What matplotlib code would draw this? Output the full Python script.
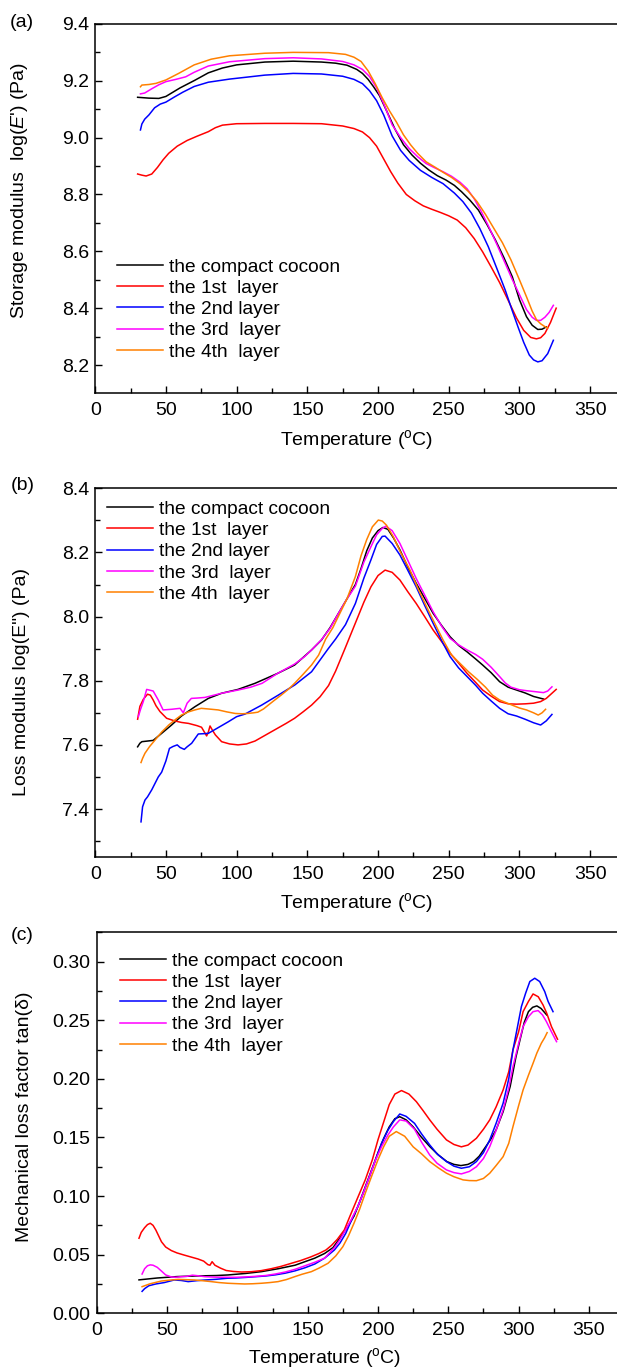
import matplotlib
matplotlib.use("Agg")
import matplotlib.pyplot as plt
from matplotlib.ticker import MultipleLocator

plt.rcParams['font.family'] = ['Liberation Sans', 'DejaVu Sans']
plt.rcParams['mathtext.fontset'] = 'custom'
plt.rcParams['mathtext.rm'] = 'Liberation Sans'
plt.rcParams['mathtext.it'] = 'Liberation Sans:italic'

labels = ["the compact cocoon", "the 1st  layer", "the 2nd layer", "the 3rd  layer", "the 4th  layer"]
colors = ["#000000", "#ff0000", "#0000ff", "#ff00ff", "#ff8000"]

# ---------------- Panel (a): storage modulus log(E') ----------------
a_compact_T = [30, 38, 45, 50, 55, 60, 70.5, 80, 90, 100, 120, 140, 160, 170, 178, 185, 189, 193, 197, 201, 206, 212, 218, 224, 230, 236, 242, 248, 254, 259, 265, 271, 277, 283, 289, 295, 300, 305, 309, 313, 316, 319]
a_compact_v = [9.142, 9.139, 9.138, 9.145, 9.16, 9.175, 9.202, 9.228, 9.245, 9.256, 9.266, 9.269, 9.266, 9.262, 9.255, 9.24, 9.226, 9.205, 9.178, 9.148, 9.095, 9.03, 8.975, 8.939, 8.91, 8.886, 8.866, 8.851, 8.832, 8.81, 8.78, 8.745, 8.695, 8.64, 8.578, 8.51, 8.43, 8.37, 8.34, 8.325, 8.326, 8.334]

a_l1_T = [30, 33, 36, 40, 44, 48, 52, 58, 65, 72, 80, 85, 90, 100, 120, 140, 160, 175, 183, 189, 194, 199, 204, 209, 214, 220, 226, 232, 238, 244, 250, 256, 262, 268, 274, 280, 286, 292, 298, 303, 308, 312, 315, 318, 322, 326]
a_l1_v = [8.872, 8.868, 8.865, 8.872, 8.895, 8.922, 8.945, 8.97, 8.99, 9.005, 9.021, 9.035, 9.044, 9.049, 9.05, 9.05, 9.049, 9.041, 9.032, 9.02, 9.0, 8.97, 8.925, 8.88, 8.84, 8.80, 8.778, 8.76, 8.748, 8.737, 8.725, 8.71, 8.683, 8.645, 8.598, 8.545, 8.49, 8.428, 8.365, 8.322, 8.297, 8.292, 8.296, 8.311, 8.35, 8.40]

a_l2_T = [32, 33, 35, 38, 42, 46, 50, 56, 62, 70, 80, 95, 120, 140, 160, 175, 183, 189, 194, 199, 204, 210, 216, 222, 230, 238, 246, 254, 260, 266, 272, 278, 284, 290, 295, 299, 303, 307, 310, 313, 316, 320, 324]
a_l2_v = [9.027, 9.048, 9.065, 9.08, 9.105, 9.118, 9.125, 9.143, 9.16, 9.18, 9.195, 9.206, 9.22, 9.226, 9.224, 9.216, 9.205, 9.19, 9.165, 9.13, 9.08, 9.006, 8.955, 8.92, 8.885, 8.86, 8.838, 8.805, 8.775, 8.735, 8.68, 8.616, 8.54, 8.463, 8.39, 8.334, 8.28, 8.235, 8.218, 8.211, 8.215, 8.24, 8.287]

a_l3_T = [32, 35, 40, 45, 50, 57, 64, 70, 80, 95, 120, 140, 160, 175, 183, 189, 194, 199, 204, 210, 216, 222, 228, 234, 240, 246, 252, 258, 263, 268, 273, 278, 284, 290, 295, 300, 305, 309, 312, 315, 318, 321, 324]
a_l3_v = [9.154, 9.157, 9.172, 9.186, 9.197, 9.205, 9.214, 9.23, 9.252, 9.267, 9.278, 9.281, 9.277, 9.268, 9.256, 9.24, 9.215, 9.175, 9.12, 9.045, 9.0, 8.962, 8.933, 8.909, 8.894, 8.88, 8.864, 8.843, 8.82, 8.785, 8.74, 8.69, 8.625, 8.557, 8.5, 8.448, 8.395, 8.368, 8.357, 8.357, 8.368, 8.385, 8.41]

a_l4_T = [32, 33, 38, 43, 50, 59, 70, 82, 95, 120, 140, 165, 177, 183, 188, 193, 198, 203, 208, 213, 218, 223, 228, 234, 240, 246, 252, 258, 264, 270, 276, 282, 288, 294, 300, 305, 309, 312, 315, 318, 320]
a_l4_v = [9.179, 9.185, 9.187, 9.191, 9.203, 9.226, 9.256, 9.276, 9.288, 9.297, 9.3, 9.299, 9.293, 9.283, 9.268, 9.235, 9.19, 9.14, 9.095, 9.055, 9.01, 8.975, 8.945, 8.915, 8.897, 8.878, 8.86, 8.838, 8.81, 8.775, 8.73, 8.68, 8.63, 8.57, 8.5, 8.44, 8.39, 8.36, 8.345, 8.335, 8.33]

# ---------------- Panel (b): loss modulus log(E") ----------------
b_compact_T = [30, 31.6, 33, 41, 47, 54, 61, 70.5, 80, 89.4, 101, 113, 129, 141, 153, 160, 166, 172, 178, 184, 188, 192, 196, 200, 203.5, 207, 211, 215.5, 221, 227, 233, 239, 245, 251, 257, 263, 269, 274, 280, 286, 292, 298, 304, 310, 317]
b_compact_v = [7.594, 7.605, 7.61, 7.614, 7.636, 7.662, 7.69, 7.719, 7.745, 7.761, 7.773, 7.792, 7.823, 7.849, 7.896, 7.927, 7.965, 8.01, 8.055, 8.1, 8.15, 8.205, 8.245, 8.268, 8.278, 8.272, 8.245, 8.208, 8.155, 8.104, 8.057, 8.01, 7.972, 7.937, 7.91, 7.89, 7.868, 7.849, 7.825, 7.797, 7.78, 7.771, 7.762, 7.751, 7.743]

b_l1_T = [30, 31.6, 34, 37, 39, 41, 43, 45.8, 50.5, 56, 61, 66, 72, 75.2, 78.8, 80, 81.2, 83, 85, 89.4, 95, 101, 107, 113, 121, 129, 135, 141, 147, 153, 159, 165, 170, 176.6, 184, 190, 195, 200, 205, 210, 215.5, 221, 227, 233, 239, 245, 251, 257, 263, 269, 274, 280, 286, 292, 298, 304, 310, 315, 319, 322, 326]
b_l1_v = [7.68, 7.72, 7.742, 7.758, 7.755, 7.74, 7.722, 7.704, 7.683, 7.675, 7.67, 7.667, 7.66, 7.655, 7.628, 7.64, 7.659, 7.645, 7.631, 7.61, 7.603, 7.6, 7.603, 7.612, 7.632, 7.652, 7.667, 7.683, 7.703, 7.724, 7.75, 7.785, 7.83, 7.9, 7.98, 8.045, 8.093, 8.128, 8.145, 8.138, 8.114, 8.078, 8.041, 8.0, 7.958, 7.922, 7.886, 7.855, 7.823, 7.795, 7.771, 7.752, 7.735, 7.728, 7.727, 7.728, 7.73, 7.735, 7.745, 7.757, 7.773]

b_l2_T = [32.4, 33.5, 35.2, 37, 40, 44.6, 47, 50, 52.5, 55, 58, 60, 63, 65, 68.2, 72.9, 77, 80, 84.7, 94.1, 100, 105.9, 117.7, 129.4, 141.2, 153, 164.8, 170, 177, 184, 190, 195, 199, 203, 205, 210, 215.5, 221, 227, 233, 239, 245, 251, 257, 263, 269, 274, 280, 286, 292, 298, 304, 310, 315, 319, 323]
b_l2_v = [7.36, 7.407, 7.428, 7.438, 7.46, 7.50, 7.515, 7.55, 7.589, 7.595, 7.6, 7.592, 7.586, 7.594, 7.605, 7.634, 7.635, 7.636, 7.648, 7.672, 7.688, 7.696, 7.724, 7.755, 7.787, 7.828, 7.9, 7.93, 7.975, 8.041, 8.12, 8.177, 8.225, 8.25, 8.251, 8.228, 8.192, 8.145, 8.093, 8.035, 7.979, 7.925, 7.875, 7.84, 7.813, 7.786, 7.761, 7.737, 7.714, 7.697, 7.69, 7.68, 7.669, 7.662, 7.675, 7.695]

b_l3_T = [30.5, 32, 34, 36.4, 41, 44.6, 48, 54, 60, 62.3, 65, 68, 72, 77.6, 89.4, 101, 110, 118, 129, 141, 148, 153, 160, 166, 172, 178, 184, 190, 195, 199, 203, 205.5, 210, 215.5, 221, 227, 233, 239, 245, 251, 257, 263, 269, 274, 280, 286, 290, 294, 300, 305, 311, 317, 320, 323]
b_l3_v = [7.688, 7.71, 7.735, 7.773, 7.768, 7.74, 7.709, 7.711, 7.714, 7.70, 7.73, 7.745, 7.746, 7.748, 7.761, 7.771, 7.78, 7.792, 7.823, 7.852, 7.875, 7.896, 7.928, 7.963, 8.01, 8.055, 8.095, 8.17, 8.218, 8.255, 8.275, 8.282, 8.268, 8.228, 8.176, 8.119, 8.067, 8.015, 7.97, 7.932, 7.912, 7.896, 7.882, 7.867, 7.842, 7.813, 7.793, 7.78, 7.772, 7.769, 7.766, 7.763, 7.768, 7.781]

b_l4_T = [32.4, 33.5, 35.2, 38.5, 42.3, 47, 52, 57, 61, 66, 70.5, 75, 80, 87, 93, 99, 104, 108, 112, 115, 119, 122.4, 127, 132, 137, 141, 147, 153, 158, 163, 168, 173, 178, 184, 188, 192, 196, 200.2, 203, 206, 210.8, 216, 222.6, 228, 234.3, 240, 246, 252, 258, 264, 270, 276, 281, 286, 291, 296, 300, 305, 310, 313.3, 316, 318.5]
b_l4_v = [7.545, 7.558, 7.574, 7.595, 7.615, 7.64, 7.662, 7.68, 7.693, 7.703, 7.709, 7.714, 7.712, 7.709, 7.703, 7.698, 7.697, 7.698, 7.7, 7.702, 7.712, 7.724, 7.74, 7.757, 7.775, 7.792, 7.82, 7.849, 7.88, 7.93, 7.965, 8.01, 8.055, 8.125, 8.19, 8.24, 8.28, 8.301, 8.298, 8.285, 8.249, 8.2, 8.145, 8.09, 8.031, 7.98, 7.927, 7.88, 7.854, 7.828, 7.805, 7.78, 7.755, 7.74, 7.731, 7.722, 7.715, 7.709, 7.7, 7.693, 7.7, 7.711]

# ---------------- Panel (c): tan(delta) ----------------
c_compact_T = [30, 43, 57, 69.6, 85, 93.3, 106, 117, 129, 141, 155, 162, 168, 174, 179, 183, 187, 191, 196, 200, 204, 208, 212, 215.5, 220, 225, 231, 237, 243, 249, 254, 259, 264, 268, 272, 275, 280, 284, 289, 294, 298, 301, 304, 307, 310, 313, 316, 320]
c_compact_v = [0.0285, 0.0301, 0.0313, 0.0318, 0.0322, 0.0327, 0.034, 0.0355, 0.038, 0.041, 0.047, 0.051, 0.056, 0.066, 0.075, 0.083, 0.095, 0.108, 0.124, 0.137, 0.149, 0.159, 0.166, 0.1677, 0.165, 0.159, 0.15, 0.142, 0.135, 0.1294, 0.127, 0.126, 0.127, 0.1294, 0.134, 0.1393, 0.148, 0.1564, 0.172, 0.1934, 0.218, 0.2332, 0.248, 0.2573, 0.261, 0.2622, 0.26, 0.2545]

c_l1_T = [30, 31.6, 34, 36, 38, 40, 42, 44, 46, 49, 53, 57, 62, 67, 72, 76, 79, 80.5, 82, 84, 88, 92, 97, 103, 110, 117, 124, 131, 138, 145, 152, 158, 163, 167, 171, 176, 180, 185, 191, 196, 200, 204, 208, 212, 216.7, 222, 227.3, 232, 236.8, 242, 248.7, 254, 259.3, 264, 270, 275, 279.5, 284, 289, 293, 296, 300, 303.2, 307, 310.3, 314, 317.4, 320, 323.4, 327.7]
c_l1_v = [0.064, 0.069, 0.073, 0.0756, 0.0768, 0.075, 0.071, 0.066, 0.061, 0.0565, 0.0535, 0.0515, 0.0497, 0.048, 0.0463, 0.0445, 0.0415, 0.041, 0.044, 0.041, 0.0385, 0.0365, 0.0357, 0.0352, 0.0355, 0.0364, 0.038, 0.040, 0.0425, 0.045, 0.048, 0.051, 0.054, 0.058, 0.063, 0.071, 0.0827, 0.097, 0.114, 0.131, 0.148, 0.163, 0.178, 0.187, 0.19, 0.187, 0.1805, 0.173, 0.165, 0.157, 0.1479, 0.144, 0.142, 0.1435, 0.1493, 0.157, 0.165, 0.176, 0.1905, 0.206, 0.2247, 0.24, 0.2573, 0.266, 0.2724, 0.27, 0.263, 0.256, 0.2445, 0.2338]

c_l2_T = [32.2, 34, 37, 42, 48, 55, 60, 65, 71, 77, 85, 93, 99, 106, 113, 120, 127, 134, 141, 148, 155, 162, 169, 173, 177, 181, 185.7, 190, 194, 198, 202.5, 207, 211, 215.5, 220, 226, 231, 236.8, 242, 248.7, 254, 259.3, 265, 270, 275, 279.5, 284, 289, 293, 296, 299, 302, 305, 308, 311.5, 315, 318.6, 321, 324.5]
c_l2_v = [0.0187, 0.021, 0.0235, 0.025, 0.0262, 0.0284, 0.028, 0.027, 0.0278, 0.0284, 0.029, 0.0299, 0.0301, 0.0306, 0.0312, 0.0318, 0.0328, 0.0342, 0.0362, 0.0388, 0.042, 0.047, 0.054, 0.06, 0.068, 0.079, 0.0912, 0.104, 0.1168, 0.13, 0.145, 0.156, 0.1636, 0.17, 0.168, 0.162, 0.153, 0.1436, 0.136, 0.1294, 0.1255, 0.1237, 0.125, 0.1294, 0.137, 0.148, 0.162, 0.1792, 0.2, 0.2247, 0.243, 0.2616, 0.273, 0.283, 0.2858, 0.283, 0.2744, 0.266, 0.2573]

c_l3_T = [32.2, 34, 36, 38, 40, 43, 46, 49, 53, 56, 60, 64, 68, 72, 77, 85, 93, 99, 106, 113, 120, 127, 134, 141, 148, 155, 162, 169, 173, 177, 181, 185.7, 190, 194, 198, 202.5, 207, 211, 215.5, 220, 226, 231, 236.8, 242, 248.7, 254, 259.3, 265, 270, 275, 279.5, 284, 289, 293, 296, 300, 303.2, 307, 310.3, 313.9, 317, 319.8, 323, 327]
c_l3_v = [0.0335, 0.038, 0.0405, 0.0413, 0.041, 0.0392, 0.036, 0.0327, 0.031, 0.0307, 0.0312, 0.0315, 0.0325, 0.032, 0.0312, 0.0308, 0.0307, 0.0307, 0.031, 0.0315, 0.0322, 0.0335, 0.0352, 0.0375, 0.0405, 0.0435, 0.047, 0.056, 0.063, 0.0713, 0.08, 0.0912, 0.104, 0.1168, 0.13, 0.142, 0.152, 0.159, 0.165, 0.164, 0.157, 0.146, 0.135, 0.128, 0.1223, 0.12, 0.1189, 0.121, 0.125, 0.132, 0.1422, 0.156, 0.1735, 0.192, 0.2104, 0.23, 0.2445, 0.253, 0.2573, 0.2582, 0.2545, 0.2488, 0.241, 0.2317]

c_l4_T = [32.2, 38, 45.9, 52, 57.8, 63, 69.6, 75, 81.5, 87, 93.3, 99, 105.2, 111, 117, 123, 128.9, 135, 140.7, 146, 152.6, 158, 164.5, 170, 175, 179, 183, 187, 191, 195.5, 200, 204, 208, 213, 219, 225, 231, 236.8, 243, 248.7, 254, 260.5, 265, 270, 275, 279.5, 284, 289, 293, 296, 300, 303.2, 307, 310.3, 313, 316.2, 318.5, 320.3]
c_l4_v = [0.0227, 0.0252, 0.0275, 0.0283, 0.0289, 0.0287, 0.0284, 0.0278, 0.027, 0.0262, 0.0256, 0.0253, 0.025, 0.0252, 0.0256, 0.0262, 0.027, 0.0288, 0.0312, 0.0333, 0.0355, 0.0385, 0.0427, 0.049, 0.0568, 0.066, 0.077, 0.089, 0.1026, 0.117, 0.131, 0.142, 0.151, 0.155, 0.151, 0.142, 0.136, 0.1294, 0.124, 0.1195, 0.1165, 0.1138, 0.1132, 0.1131, 0.115, 0.1195, 0.126, 0.1336, 0.145, 0.1592, 0.177, 0.1905, 0.203, 0.2133, 0.222, 0.2304, 0.235, 0.2394]

x_ticks = [0, 50, 100, 150, 200, 250, 300, 350]

FS = 14
fig = plt.figure(figsize=(6.17, 13.69), dpi=100)

panels = [
    dict(rect=[0.1543, 0.7127, 0.8457, 0.2698], xlim=(0, 369), ylim=(8.1004, 9.4),
         major=0.2, minor=0.1, fmt="{:.1f}",
         series=[(a_compact_T, a_compact_v), (a_l1_T, a_l1_v), (a_l2_T, a_l2_v), (a_l3_T, a_l3_v), (a_l4_T, a_l4_v)],
         ylabel=r"Storage modulus  log($\mathit{E}$') (Pa)", ylab_pos=(-0.125, 0.548),
         xlab_pos=(0.5, -0.093), leg=(0.042, 0.366), letter="(a)", letter_pos=(0.0357, 0.9832)),
    dict(rect=[0.1543, 0.3742, 0.8457, 0.2691], xlim=(0, 369), ylim=(7.2513, 8.4),
         major=0.2, minor=0.1, fmt="{:.1f}",
         series=[(b_compact_T, b_compact_v), (b_l1_T, b_l1_v), (b_l2_T, b_l2_v), (b_l3_T, b_l3_v), (b_l4_T, b_l4_v)],
         ylabel='Loss modulus log(E") (Pa)', ylab_pos=(-0.125, 0.473),
         xlab_pos=(0.5, -0.093), leg=(0.0234, 0.967), letter="(b)", letter_pos=(0.0373, 0.6457)),
    dict(rect=[0.1569, 0.0407, 0.8431, 0.2783], xlim=(0, 370), ylim=(0.0, 0.325),
         major=0.05, minor=0.025, fmt="{:.2f}",
         series=[(c_compact_T, c_compact_v), (c_l1_T, c_l1_v), (c_l2_T, c_l2_v), (c_l3_T, c_l3_v), (c_l4_T, c_l4_v)],
         ylabel="Mechanical loss factor tan(δ)", ylab_pos=(-0.122, 0.516),
         xlab_pos=(0.437, -0.087), leg=(0.0446, 0.948), letter="(c)", letter_pos=(0.0357, 0.3163)),
]

for p in panels:
    ax = fig.add_axes(p["rect"])
    for (T, v), lab, col in zip(p["series"], labels, colors):
        ax.plot(T, v, color=col, lw=1.1, label=lab)
    ax.set_xlim(*p["xlim"])
    ax.set_ylim(*p["ylim"])
    ax.set_xticks(x_ticks)
    ax.set_xticklabels([str(t) for t in x_ticks])
    ax.xaxis.set_minor_locator(MultipleLocator(25))
    ax.yaxis.set_major_locator(MultipleLocator(p["major"]))
    ax.yaxis.set_minor_locator(MultipleLocator(p["minor"]))
    ax.yaxis.set_major_formatter(matplotlib.ticker.FuncFormatter(lambda v, pos, f=p["fmt"]: f.format(v)))
    ax.spines['right'].set_visible(False)
    for s in ['left', 'bottom', 'top']:
        ax.spines[s].set_linewidth(1.1)
    ax.tick_params(which='both', direction='in', top=False, right=False, width=1.0)
    ax.tick_params(which='major', length=5)
    ax.tick_params(which='minor', length=3.5)
    ax.tick_params(axis='x', which='major', labelsize=FS, pad=6.5)
    ax.tick_params(axis='y', which='major', labelsize=FS, pad=4.5)
    ax.set_ylabel(p["ylabel"], fontsize=FS)
    ax.yaxis.set_label_coords(*p["ylab_pos"])
    ax.set_xlabel(r"Temperature ($^{\mathregular{o}}$C)", fontsize=FS)
    ax.xaxis.set_label_coords(*p["xlab_pos"])
    ax.legend(loc='upper left', bbox_to_anchor=p["leg"], frameon=False, fontsize=13.8,
              handlelength=2.4, handletextpad=0.3, labelspacing=0.2,
              borderpad=0, borderaxespad=0)
    fig.text(p["letter_pos"][0], p["letter_pos"][1], p["letter"], fontsize=FS,
             ha='center', va='center')

fig.savefig("out.png", dpi=100)
